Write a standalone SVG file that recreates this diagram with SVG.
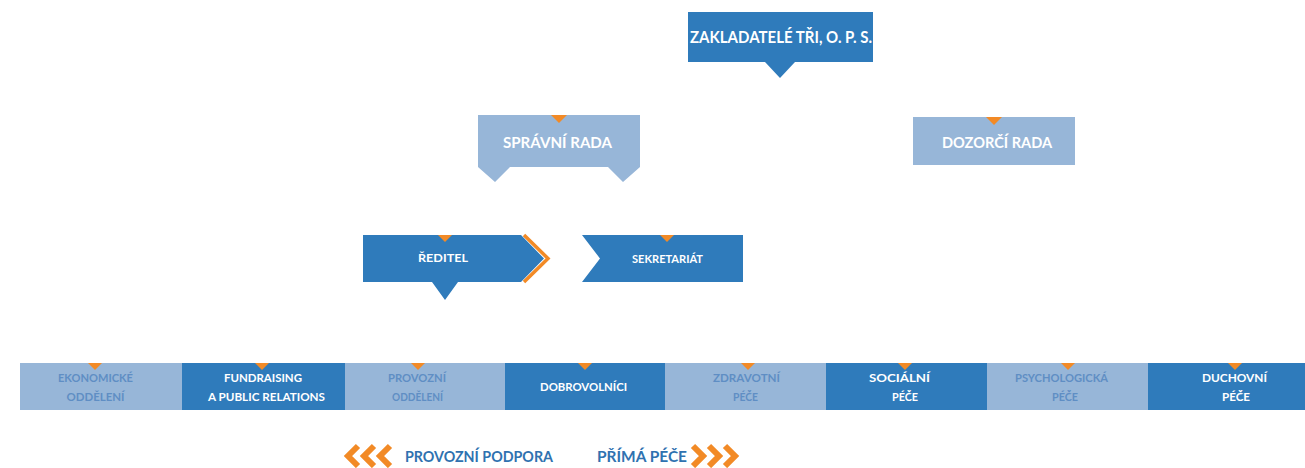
<svg xmlns="http://www.w3.org/2000/svg" width="1305" height="468" viewBox="0 0 1305 468">
<style>
.dark{fill:#2f7bbb}
.light{fill:#97b6d8}
.or{fill:#f28a26}
.t{font-family:Lato,"Open Sans","Liberation Sans",sans-serif;font-weight:bold;text-anchor:middle}
.w{fill:#ffffff}
.lb{fill:#5f8ec4}
.s11{font-size:11.5px}
.leg{font-family:Lato,"Open Sans","Liberation Sans",sans-serif;font-weight:bold;font-size:16px;fill:#2f72b0}
.chev{fill:none;stroke:#f28a26;stroke-width:6;stroke-linejoin:miter}
</style>
<rect width="1305" height="468" fill="#ffffff"/>

<g id="zakladatele">
<path class="dark" d="M688,12 H873 V62 H795 L780,78 L765,62 H688 Z"/>
<text class="t w" x="781" y="43" font-size="17" textLength="182" lengthAdjust="spacingAndGlyphs">ZAKLADATELÉ TŘI, O. P. S.</text>
</g>

<g id="spravni-rada">
<path class="light" d="M478,115 H640 V167 L623,182 L608,167 H510 L495,182 L478,167 Z"/>
<path class="or" d="M551,115 H567 L559,123 Z"/>
<text class="t w" x="557.5" y="148" font-size="15.5" textLength="109" lengthAdjust="spacingAndGlyphs">SPRÁVNÍ RADA</text>
</g>

<g id="dozorci-rada">
<rect class="light" x="913" y="117" width="162" height="48"/>
<path class="or" d="M986,117 H1002 L994,125 Z"/>
<text class="t w" x="997" y="148" font-size="15.5" textLength="110" lengthAdjust="spacingAndGlyphs">DOZORČÍ RADA</text>
</g>

<g id="reditel">
<path d="M524,235 L548,258.5 L524,282" fill="none" stroke="#f28a26" stroke-width="3.5"/>
<path class="dark" d="M363,235 H521 L544,258.5 L521,282 H458 L445,300 L432,282 H363 Z"/>
<path class="or" d="M438,235 H452 L445,242 Z"/>
<text class="t w" x="443" y="262" font-size="12" textLength="50" lengthAdjust="spacingAndGlyphs">ŘEDITEL</text>
</g>

<g id="sekretariat">
<path class="dark" d="M582,235 H743 V282 H582 L600,258.5 Z"/>
<path class="or" d="M660,235 H674 L667,242 Z"/>
<text class="t w" x="667.5" y="263" font-size="12" textLength="71" lengthAdjust="spacingAndGlyphs">SEKRETARIÁT</text>
</g>

<g id="ekonomicke-oddeleni">
<rect class="light" x="20" y="363" width="162" height="47"/>
<path class="or" d="M88,363 H102 L95,370 Z"/>
<text class="t lb s11" x="95.5" y="382" textLength="75" lengthAdjust="spacingAndGlyphs">EKONOMICKÉ</text>
<text class="t lb s11" x="95.5" y="401" textLength="58" lengthAdjust="spacingAndGlyphs">ODDĚLENÍ</text>
</g>

<g id="fundraising">
<rect class="dark" x="182" y="363" width="163" height="47"/>
<path class="or" d="M255,363 H269 L262,370 Z"/>
<text class="t w s11" x="263" y="382" textLength="78" lengthAdjust="spacingAndGlyphs">FUNDRAISING</text>
<text class="t w s11" x="266.5" y="401" textLength="117" lengthAdjust="spacingAndGlyphs">A PUBLIC RELATIONS</text>
</g>

<g id="provozni-oddeleni">
<rect class="light" x="345" y="363" width="160" height="47"/>
<path class="or" d="M411,363 H425 L418,370 Z"/>
<text class="t lb s11" x="417" y="382" textLength="58" lengthAdjust="spacingAndGlyphs">PROVOZNÍ</text>
<text class="t lb s11" x="417.5" y="401" textLength="51" lengthAdjust="spacingAndGlyphs">ODDĚLENÍ</text>
</g>

<g id="dobrovolnici">
<rect class="dark" x="505" y="363" width="160" height="47"/>
<path class="or" d="M578,363 H592 L585,370 Z"/>
<text class="t w s11" x="583.5" y="391" textLength="87" lengthAdjust="spacingAndGlyphs">DOBROVOLNÍCI</text>
</g>

<g id="zdravotni-pece">
<rect class="light" x="665" y="363" width="161" height="47"/>
<path class="or" d="M741,363 H755 L748,370 Z"/>
<text class="t lb s11" x="746.5" y="382" textLength="67" lengthAdjust="spacingAndGlyphs">ZDRAVOTNÍ</text>
<text class="t lb s11" x="745.5" y="401" textLength="25" lengthAdjust="spacingAndGlyphs">PÉČE</text>
</g>

<g id="socialni-pece">
<rect class="dark" x="826" y="363" width="161" height="47"/>
<path class="or" d="M898,363 H912 L905,370 Z"/>
<text class="t w s11" x="899.5" y="382" textLength="61" lengthAdjust="spacingAndGlyphs">SOCIÁLNÍ</text>
<text class="t w s11" x="905" y="401" textLength="26" lengthAdjust="spacingAndGlyphs">PÉČE</text>
</g>

<g id="psychologicka-pece">
<rect class="light" x="987" y="363" width="161" height="47"/>
<path class="or" d="M1061,363 H1075 L1068,370 Z"/>
<text class="t lb s11" x="1061.5" y="382" textLength="93" lengthAdjust="spacingAndGlyphs">PSYCHOLOGICKÁ</text>
<text class="t lb s11" x="1065" y="401" textLength="26" lengthAdjust="spacingAndGlyphs">PÉČE</text>
</g>

<g id="duchovni-pece">
<rect class="dark" x="1148" y="363" width="157" height="47"/>
<path class="or" d="M1228,363 H1242 L1235,370 Z"/>
<text class="t w s11" x="1234.5" y="382" textLength="65" lengthAdjust="spacingAndGlyphs">DUCHOVNÍ</text>
<text class="t w s11" x="1236" y="401" textLength="28" lengthAdjust="spacingAndGlyphs">PÉČE</text>
</g>

<g id="connectors"></g>

<g id="legend">
<path class="chev" d="M358,446 L348,456 L358,466 M374,446 L364,456 L374,466 M390,446 L380,456 L390,466"/>
<text class="leg" x="405" y="462" textLength="148" lengthAdjust="spacingAndGlyphs">PROVOZNÍ PODPORA</text>
<text class="leg" x="597" y="462" textLength="90" lengthAdjust="spacingAndGlyphs">PŘÍMÁ PÉČE</text>
<path class="chev" d="M693,446 L703,456 L693,466 M709,446 L719,456 L709,466 M725,446 L735,456 L725,466"/>
</g>
</svg>
